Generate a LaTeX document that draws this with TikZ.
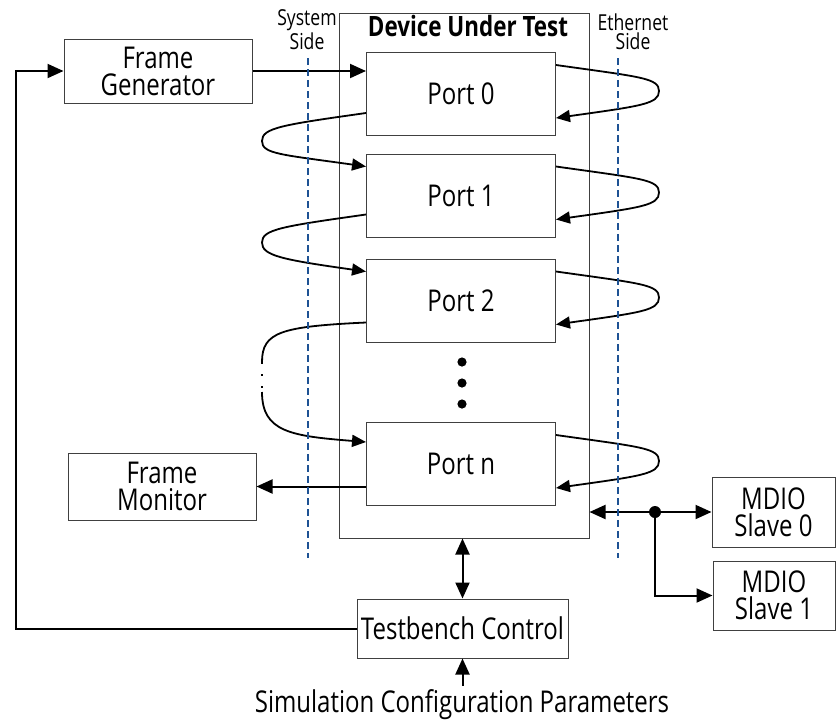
\documentclass[tikz,border=0pt]{standalone}
\usepackage{fontspec}
\setmainfont{Open Sans}[FakeStretch=0.8]
\usetikzlibrary{arrows.meta}
\definecolor{sideblue}{RGB}{30,82,148}

\begin{document}
\begin{tikzpicture}[x=0.5pt, y=-0.5pt,
  box/.style={draw=black!75, line width=0.5pt, minimum width=94pt, minimum height=32pt, align=center, inner sep=0pt, font=\fontsize{15pt}{13.5pt}\selectfont},
  port/.style={box, minimum width=94.5pt, minimum height=41.5pt},
  arr/.style={-{Triangle[length=8pt,width=7pt]}, line width=1pt},
  loop/.style={-{Triangle[length=7pt,width=6pt]}, line width=0.9pt},
  dbl/.style={{Triangle[length=8pt,width=7pt]}-{Triangle[length=8pt,width=7pt]}, line width=1pt},
  sideline/.style={draw=sideblue, line width=1.3pt, dash pattern=on 3.5pt off 2pt},
  lbl/.style={align=center, inner sep=0pt, font=\fontsize{11pt}{9.5pt}\selectfont}]
  \useasboundingbox (0,0) rectangle (837,719);

  % device under test and its ports
  \node[box, minimum width=125pt, minimum height=262.5pt] (dut) at (464,275.5) {};
  \node[font=\bfseries\fontsize{14pt}{14pt}\selectfont] (title) at (468,26) {Device Under Test};
  \node[port] (p0) at (461,94) {Port 0};
  \node[port] (p1) at (461,195.5) {Port 1};
  \node[port] (p2) at (461,300.5) {Port 2};
  \node[port] (pn) at (461,464) {Port n};
  \foreach \y in {362,383,404}
    \fill (462,\y) circle (2.3pt);

  % testbench blocks
  \node[box] (gen) at (158,71) {Frame\\Generator};
  \node[box, minimum height=33.5pt] (mon) at (162,486.5) {Frame\\Monitor};
  \node[box, minimum width=105.5pt, minimum height=29.5pt] (tb) at (462.5,628.5) {Testbench Control};
  \node[box, minimum width=61.5pt, minimum height=35pt] (md0) at (773.5,512) {MDIO\\Slave 0};
  \node[box, minimum width=61pt, minimum height=34.5pt] (md1) at (774,595.5) {MDIO\\Slave 1};
  \node[anchor=base, inner sep=1.5pt, font=\fontsize{15pt}{13.5pt}\selectfont] (sim) at (462,712) {Simulation Configuration Parameters};
  \node[lbl] (sys) at (307,30) {System\\Side};
  \node[lbl] (eth) at (633,32) {Ethernet\\Side};

  % frame path
  \draw[arr] (gen.east) -- (gen.east -| p0.west);
  \foreach \p in {p0,p1,p2,pn}
    \draw[loop] ([yshift=-6.5pt]\p.north east) .. controls +(85,12) and +(0,-13) .. ++(103,26) .. controls +(0,13) and +(85,-12) .. ([yshift=9pt]\p.south east);
  \foreach \a/\b in {p0/p1,p1/p2}
    \draw[loop] ([yshift=11.5pt]\a.south west) .. controls +(-85,12) and +(0,-13) .. ++(-104,28) .. controls +(0,13) and +(-85,-12) .. ([yshift=-6.5pt]\b.north west);
  \coordinate (gapa) at (262,362);
  \coordinate (gapb) at (262,392);
  \draw[line width=0.9pt] ([yshift=10pt]p2.south west) .. controls +(-85,4) and +(0,-30) .. (gapa);
  \draw[line width=1pt, dash pattern=on 1pt off 5pt] (gapa) -- (gapb);
  \draw[loop] (gapb) .. controls +(0,40) and +(-75,-6) .. ([yshift=-10pt]pn.north west);
  \draw[arr] (mon.east -| pn.west) -- (mon.east);

  % control
  \draw[arr] (tb.west) -| (16,71) -- (gen.west);
  \draw[dbl] (tb.north |- dut.south) -- (tb.north);
  \draw[arr] (sim.north -| tb.south) -- (tb.south);
  \coordinate (jn) at (655,512);
  \draw[dbl] (dut.east |- md0.west) -- (md0.west);
  \fill (jn) circle (3pt);
  \draw[arr] (jn) |- (md1.west);

  % system / ethernet side
  \draw[sideline] (308,58) -- (308,558);
  \draw[sideline] (618,58) -- (618,558);
\end{tikzpicture}
\end{document}
